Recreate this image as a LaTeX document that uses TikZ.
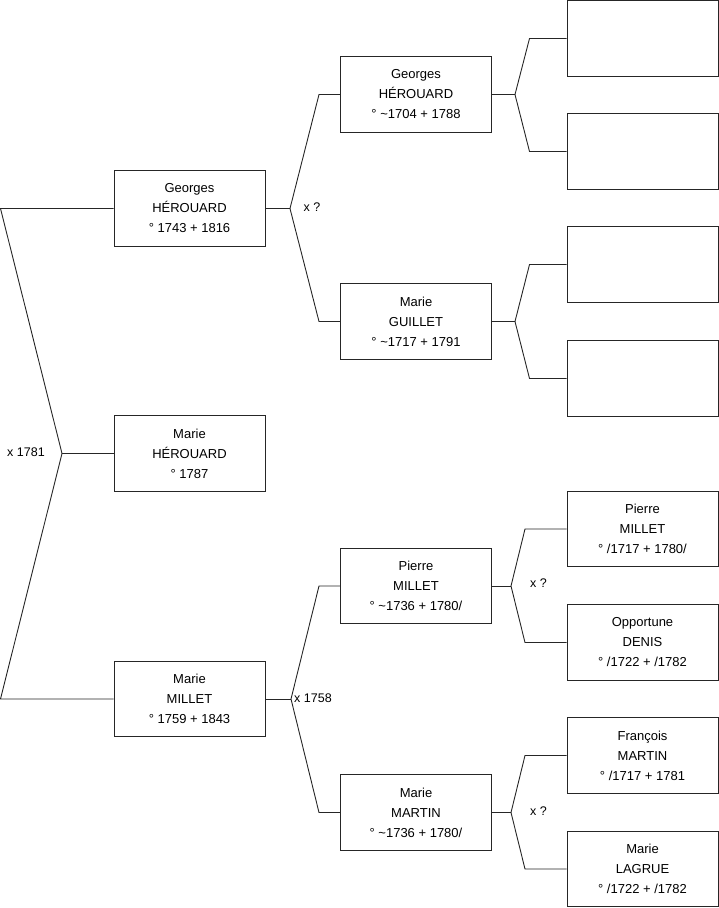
\documentclass[tikz,border=0pt]{standalone}
\usepackage{fontspec}
\setmainfont{Liberation Sans}
\begin{document}
\begin{tikzpicture}[x=1pt,y=-1pt,
  person/.style={draw=black!85,line width=0.9pt,fill=white,minimum width=151pt,minimum height=75.5pt,inner sep=0pt,align=center,font=\fontsize{13}{20}\selectfont},
  link/.style={draw=black!85,line width=0.9pt},
  marr/.style={font=\fontsize{12.5}{14}\selectfont,inner sep=0pt}]
\useasboundingbox (0,0) rectangle (719,908);
% column 1
\node[person] (g1) at (189.5,208.5) {Georges\\HÉROUARD\\° 1743 + 1816};
\node[person] (c1) at (189.5,453.5) {Marie\\HÉROUARD\\° 1787};
\node[person] (m1) at (189.5,699) {Marie\\MILLET\\° 1759 + 1843};
% column 2
\node[person] (g2) at (416,94.5) {Georges\\HÉROUARD\\° \textasciitilde1704 + 1788};
\node[person] (gu2) at (416,321.5) {Marie\\GUILLET\\° \textasciitilde1717 + 1791};
\node[person] (p2) at (416,586) {Pierre\\MILLET\\° \textasciitilde1736 + 1780/};
\node[person] (ma2) at (416,812.5) {Marie\\MARTIN\\° \textasciitilde1736 + 1780/};
% column 3
\node[person] (e1) at (642.5,38.5) {};
\node[person] (e2) at (642.5,151.5) {};
\node[person] (e3) at (642.5,264.5) {};
\node[person] (e4) at (642.5,378.5) {};
\node[person] (p3) at (642.5,529) {Pierre\\MILLET\\° /1717 + 1780/};
\node[person] (d3) at (642.5,642.5) {Opportune\\DENIS\\° /1722 + /1782};
\node[person] (f3) at (642.5,755.5) {François\\MARTIN\\° /1717 + 1781};
\node[person] (l3) at (642.5,869) {Marie\\LAGRUE\\° /1722 + /1782};
% forks
\coordinate (k0) at (62,453.5);
\coordinate (k0a) at (0.5,208.5);
\coordinate (k0b) at (0.5,699);
\draw[link] (g1.west) -- (k0a) -- (k0) -- (k0b) -- (m1.west);
\draw[link] (k0) -- (c1.west);
\node[marr] (l0) at (26,452) {x 1781};
% Georges fork
\coordinate (k1) at (290,208.5);
\coordinate (k1a) at (319,94.5);
\coordinate (k1b) at (319,321.5);
\draw[link] (g1.east) -- (k1);
\draw[link] (g2.west) -- (k1a) -- (k1) -- (k1b) -- (gu2.west);
\node[marr] (l1) at (312,207) {x ?};
% Marie MILLET fork
\coordinate (k2) at (291,699);
\coordinate (k2a) at (319,586);
\coordinate (k2b) at (319,812.5);
\draw[link] (m1.east) -- (k2);
\draw[link] (p2.west) -- (k2a) -- (k2) -- (k2b) -- (ma2.west);
\node[marr] (l2) at (313,698) {x 1758};
% column2 -> column3 forks
\coordinate (k3) at (515,94.5);
\coordinate (k3a) at (529.5,38.5);
\coordinate (k3b) at (529.5,151.5);
\draw[link] (g2.east) -- (k3);
\draw[link] (e1.west) -- (k3a) -- (k3) -- (k3b) -- (e2.west);
\coordinate (k4) at (515,321.5);
\coordinate (k4a) at (529.5,264.5);
\coordinate (k4b) at (529.5,378.5);
\draw[link] (gu2.east) -- (k4);
\draw[link] (e3.west) -- (k4a) -- (k4) -- (k4b) -- (e4.west);
\coordinate (k5) at (511,586);
\coordinate (k5a) at (525,529);
\coordinate (k5b) at (525,642.5);
\draw[link] (p2.east) -- (k5);
\draw[link] (p3.west) -- (k5a) -- (k5) -- (k5b) -- (d3.west);
\node[marr] (l5) at (538.5,583) {x ?};
\coordinate (k6) at (511,812.5);
\coordinate (k6a) at (525,755.5);
\coordinate (k6b) at (525,869);
\draw[link] (ma2.east) -- (k6);
\draw[link] (f3.west) -- (k6a) -- (k6) -- (k6b) -- (l3.west);
\node[marr] (l6) at (538.5,811) {x ?};
\end{tikzpicture}
\end{document}
